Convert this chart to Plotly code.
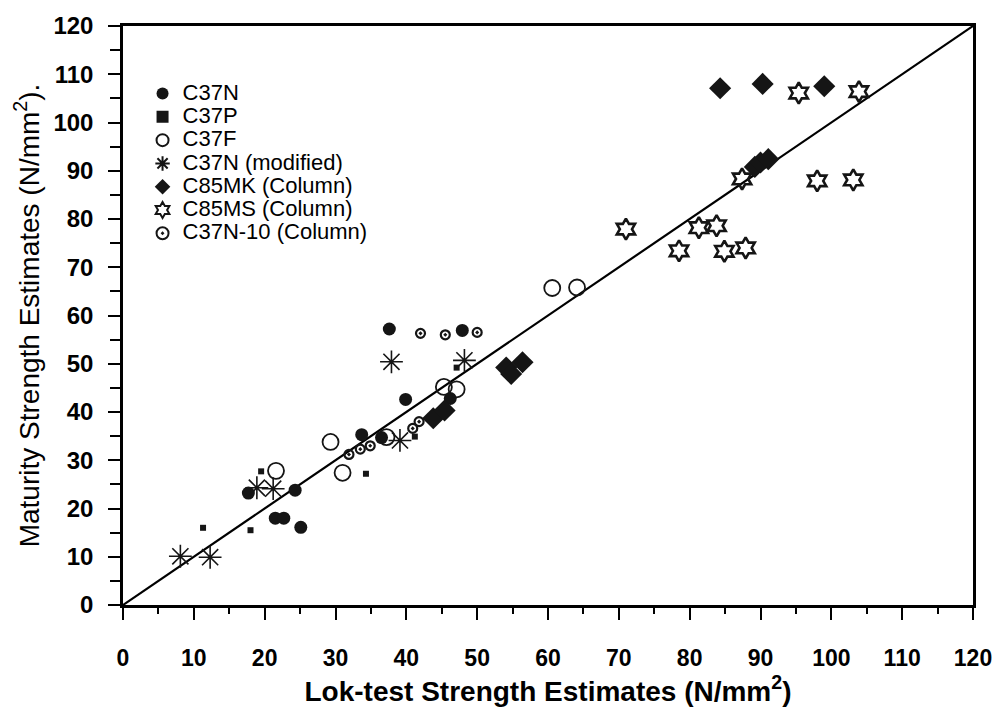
import plotly.graph_objects as go

# ---- data (Lok-test x, Maturity y) ----
c37n_x = [17.7, 24.3, 21.5, 22.7, 25.1, 33.7, 36.5, 39.9, 46.2, 37.6, 47.9]
c37n_y = [23.2, 23.8, 18.0, 18.0, 16.1, 35.3, 34.7, 42.6, 42.8, 57.2, 56.9]

c37p_x = [11.3, 18.0, 19.5, 34.3, 41.2, 47.1]
c37p_y = [16.0, 15.5, 27.7, 27.2, 34.9, 49.2]

c37f_x = [21.6, 29.3, 31.0, 37.2, 45.3, 47.1, 60.6, 64.1]
c37f_y = [27.8, 33.8, 27.4, 34.8, 45.2, 44.7, 65.7, 65.8]

c37nmod_x = [8.1, 12.3, 18.9, 21.2, 39.1, 37.9, 48.2]
c37nmod_y = [10.1, 9.9, 24.3, 24.1, 34.1, 50.4, 50.7]

c85mk_x = [43.8, 45.4, 54.1, 54.8, 56.4, 89.2, 90.0, 91.1, 84.3, 90.3, 99.0]
c85mk_y = [38.7, 40.3, 49.2, 47.9, 50.3, 90.8, 91.7, 92.4, 107.1, 108.0, 107.5]

c85ms_x = [95.4, 103.9, 87.4, 98.0, 103.1, 71.0, 81.3, 83.8, 78.5, 84.9, 87.9]
c85ms_y = [106.1, 106.4, 88.3, 87.9, 88.1, 77.9, 78.2, 78.6, 73.4, 73.3, 74.0]

c37n10_x = [42.0, 45.5, 50.0, 40.9, 41.8, 34.9, 33.5, 31.9]
c37n10_y = [56.3, 56.0, 56.5, 36.6, 38.0, 33.0, 32.3, 31.2]

line_x = [0, 120]
line_y = [0, 120]

tick_vals = [0, 10, 20, 30, 40, 50, 60, 70, 80, 90, 100, 110, 120]

LEG = "<span style='font-size:22px'>%s</span>"
INK = "#151515"

series = [
    ("C37N", c37n_x, c37n_y, dict(symbol="circle", size=13, color=INK)),
    ("C37P", c37p_x, c37p_y, dict(symbol="square", size=6, color=INK)),
    ("C37F", c37f_x, c37f_y, dict(symbol="circle-open", size=16, color=INK,
                                  line=dict(width=1.8))),
    ("C37N (modified)", c37nmod_x, c37nmod_y, dict(symbol="asterisk-open", size=19, color=INK,
                                                   line=dict(width=1.6))),
    ("C85MK (Column)", c85mk_x, c85mk_y, dict(symbol="diamond", size=17, color=INK)),
    ("C85MS (Column)", c85ms_x, c85ms_y, dict(symbol="hexagram-open", size=16, color=INK,
                                              line=dict(width=2.6))),
    ("C37N-10 (Column)", c37n10_x, c37n10_y, dict(symbol="circle-open-dot", size=9, color=INK,
                                                  line=dict(width=2.2))),
]

fig = go.Figure()
fig.add_trace(go.Scatter(x=line_x, y=line_y, mode="lines",
                         line=dict(color="black", width=2.2), showlegend=False,
                         hoverinfo="skip"))
for name, xs, ys, mk in series:
    fig.add_trace(go.Scatter(x=xs, y=ys, mode="markers", name=LEG % name, marker=mk))

axis_common = dict(
    range=[0, 120], showgrid=False, zeroline=False,
    showline=True, linecolor="black", linewidth=2.5, mirror=True,
    ticks="outside", tickcolor="black", tickwidth=2,
    tickvals=tick_vals, ticktext=[str(v) for v in tick_vals],
)

fig.update_xaxes(
    **axis_common, ticklen=12, ticklabelstandoff=19,
    tickfont=dict(family="Liberation Sans", size=23, color="black", weight="bold"),
    minor=dict(ticks="outside", ticklen=6, tickwidth=2, tickcolor="black", dtick=5, showgrid=False),
    title=dict(text="<b>Lok-test Strength Estimates (N/mm<sup>2</sup>)</b>",
               font=dict(family="Liberation Sans", size=28, color="black"), standoff=2),
)
fig.update_yaxes(
    **axis_common, ticklen=12, ticklabelstandoff=10,
    tickfont=dict(family="Liberation Sans", size=24, color="black", weight="bold"),
    minor=dict(ticks="outside", ticklen=10, tickwidth=2, tickcolor="black", dtick=5, showgrid=False),
    title=dict(text="Maturity Strength Estimates (N/mm<sup>2</sup>).",
               font=dict(family="Liberation Sans", size=28, color="black"), standoff=6),
)

fig.update_layout(
    width=1004, height=718,
    margin=dict(l=123, r=26, t=18, b=113),
    paper_bgcolor="white", plot_bgcolor="white",
    font=dict(family="Liberation Sans", color="black"),
    legend=dict(x=0.023, y=0.912, xanchor="left", yanchor="top",
                bgcolor="rgba(0,0,0,0)", font=dict(size=15.6, family="Liberation Sans", color="black"),
                tracegroupgap=0, itemwidth=30, itemsizing="constant"),
)

fig.write_html("out.html")
